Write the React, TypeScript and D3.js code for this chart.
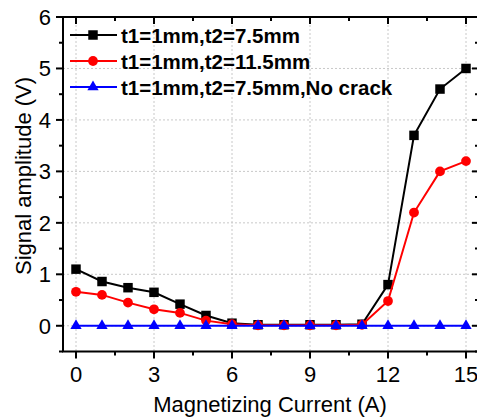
import * as d3 from "d3";
import React from "react";

const current = [0, 1, 2, 3, 4, 5, 6, 7, 8, 9, 10, 11, 12, 13, 14, 15];
const crack75 = [1.1, 0.86, 0.74, 0.65, 0.42, 0.2, 0.05, 0.02, 0.02, 0.02, 0.02, 0.03, 0.8, 3.7, 4.6, 5.0];
const crack115 = [0.66, 0.6, 0.45, 0.32, 0.25, 0.1, 0.03, 0.01, 0.01, 0.01, 0.01, 0.02, 0.48, 2.2, 3.0, 3.2];
const noCrack = [0, 0, 0, 0, 0, 0, 0, 0, 0, 0, 0, 0, 0, 0, 0, 0];

const seriesNames = ["t1=1mm,t2=7.5mm", "t1=1mm,t2=11.5mm", "t1=1mm,t2=7.5mm,No crack"];
const xTicks = [0, 3, 6, 9, 12, 15];
const yTicks = [0, 1, 2, 3, 4, 5, 6];

const W = 477;
const H = 420;
const m = { left: 63, top: 17, right: 479, bottom: 351.5 };
const font = "Arial, 'Liberation Sans', sans-serif";

const x = d3.scaleLinear().domain([-0.5, 15.5]).range([m.left, m.right]);
const y = d3.scaleLinear().domain([-0.5, 6]).range([m.bottom, m.top]);

const series = [
  { name: seriesNames[0], values: crack75, color: "#000000", shape: d3.symbolSquare, size: 90 },
  { name: seriesNames[1], values: crack115, color: "#ff0000", shape: d3.symbolCircle, size: 75 },
  { name: seriesNames[2], values: noCrack, color: "#0000ff", shape: d3.symbolTriangle, size: 55 },
];

export default function App() {
  const line = d3.line<number>().x((_, i) => x(current[i])).y((d) => y(d));
  const xMinor = d3.range(0, 15.01, 1.5);
  const yMinor = d3.range(-0.5, 6.01, 0.5);

  return (
    <svg width={W} height={H} style={{ position: "absolute", left: 0, top: 0, background: "#fff" }}>
      {/* grid */}
      {xTicks.map((t) => (
        <line key={"gx" + t} x1={x(t)} x2={x(t)} y1={m.top} y2={m.bottom} stroke="#c8c8c8" strokeDasharray="2,2" strokeWidth={1} />
      ))}
      {yTicks.map((t) => (
        <line key={"gy" + t} x1={m.left} x2={m.right} y1={y(t)} y2={y(t)} stroke="#c8c8c8" strokeDasharray="2,2" strokeWidth={1} />
      ))}

      {/* series */}
      {series.map((s) => (
        <g key={s.name}>
          <path d={line(s.values) || ""} fill="none" stroke={s.color} strokeWidth={2} />
          {s.values.map((v, i) => (
            <path
              key={i}
              d={d3.symbol().type(s.shape).size(s.size)() || ""}
              transform={`translate(${x(current[i])},${y(v)})`}
              fill={s.color}
            />
          ))}
        </g>
      ))}

      {/* frame */}
      <rect x={m.left} y={m.top} width={m.right - m.left} height={m.bottom - m.top} fill="none" stroke="#000" strokeWidth={2} />

      {/* x ticks */}
      {xMinor.map((t) => {
        const major = Math.abs(t % 3) < 1e-6;
        const len = major ? 7 : 4;
        return (
          <g key={"xt" + t}>
            <line x1={x(t)} x2={x(t)} y1={m.bottom} y2={m.bottom + len} stroke="#000" strokeWidth={2} />
            <line x1={x(t)} x2={x(t)} y1={m.top} y2={m.top + len} stroke="#000" strokeWidth={2} />
          </g>
        );
      })}
      {xTicks.map((t) => (
        <text key={"xl" + t} x={x(t)} y={382} textAnchor="middle" fontFamily={font} fontSize={22}>
          {t}
        </text>
      ))}

      {/* y ticks */}
      {yMinor.map((t) => {
        const major = Math.abs(t - Math.round(t)) < 1e-6;
        const len = major ? 7 : 4;
        return (
          <g key={"yt" + t}>
            <line x1={m.left - len} x2={m.left} y1={y(t)} y2={y(t)} stroke="#000" strokeWidth={2} />
            <line x1={m.right - len} x2={m.right} y1={y(t)} y2={y(t)} stroke="#000" strokeWidth={2} />
          </g>
        );
      })}
      {yTicks.map((t) => (
        <text key={"yl" + t} x={51} y={y(t) + 8} textAnchor="end" fontFamily={font} fontSize={22}>
          {t}
        </text>
      ))}

      {/* axis titles */}
      <text x={270} y={412} textAnchor="middle" fontFamily={font} fontSize={22}>
        Magnetizing Current (A)
      </text>
      <text transform={`translate(31,176) rotate(-90)`} textAnchor="middle" fontFamily={font} fontSize={22}>
        Signal amplitude (V)
      </text>

      {/* legend */}
      {series.map((s, i) => {
        const ly = 35 + i * 26;
        return (
          <g key={"lg" + s.name}>
            <line x1={70} x2={117} y1={ly} y2={ly} stroke={s.color} strokeWidth={2} />
            <path d={d3.symbol().type(s.shape).size(s.size)() || ""} transform={`translate(93,${ly})`} fill={s.color} />
            <text x={121} y={ly + 8} fontFamily={font} fontSize={20.5} fontWeight="bold">
              {s.name}
            </text>
          </g>
        );
      })}
    </svg>
  );
}
